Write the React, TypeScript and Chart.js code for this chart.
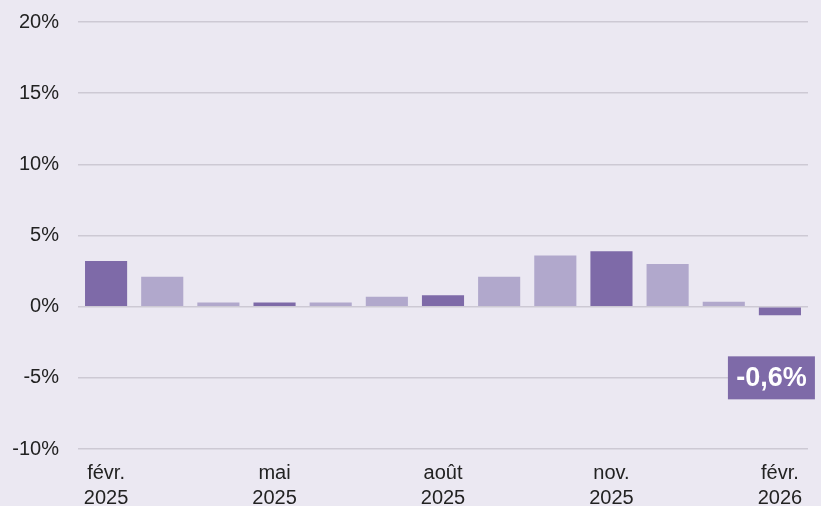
import React, { useEffect, useRef } from "react";
import { Chart, registerables } from "chart.js";

Chart.register(...registerables);

const months = ["févr.", "mars", "avr.", "mai", "juin", "juil.", "août", "sept.", "oct.", "nov.", "déc.", "janv.", "févr."];
const years = ["2025", "2025", "2025", "2025", "2025", "2025", "2025", "2025", "2025", "2025", "2025", "2026", "2026"];
const values = [3.2, 2.1, 0.3, 0.3, 0.3, 0.7, 0.8, 2.1, 3.6, 3.9, 3.0, 0.35, -0.6];
const labeledIndices = [0, 3, 6, 9, 12];
const yTicks = [-10, -5, 0, 5, 10, 15, 20];

const DARK = "#7e6aa8";
const LIGHT = "#b1a8cc";
const BG = "#ebe8f2";

const labelPlugin = {
  id: "lastLabel",
  afterDatasetsDraw(chart: any) {
    const meta = chart.getDatasetMeta(0);
    const idx = values.length - 1;
    const el = meta.data[idx];
    if (!el) return;
    const ctx = chart.ctx;
    const yScale = chart.scales.y;
    const w = 87;
    const h = 43;
    const right = el.x + 35;
    const cy = yScale.getPixelForValue(-5);
    ctx.save();
    ctx.fillStyle = DARK;
    ctx.fillRect(right - w, cy - h / 2, w, h);
    ctx.fillStyle = "#ffffff";
    ctx.font = "bold 27px 'Liberation Sans', Arial, sans-serif";
    ctx.textAlign = "center";
    ctx.textBaseline = "middle";
    const txt = values[idx].toFixed(1).replace(".", ",") + "%";
    ctx.fillText(txt, right - w / 2, cy + 1);
    ctx.restore();
  },
};

export default function App() {
  const ref = useRef<HTMLCanvasElement>(null);
  useEffect(() => {
    document.body.style.margin = "0";
    document.body.style.background = BG;
    document.body.style.overflow = "hidden";
    const chart = new Chart(ref.current!, {
      type: "bar",
      data: {
        labels: months.map((m, i) => [m, years[i]]),
        datasets: [
          {
            data: values,
            backgroundColor: values.map((_, i) => (labeledIndices.includes(i) ? DARK : LIGHT)),
            barPercentage: 0.75,
            categoryPercentage: 1,
          },
        ],
      },
      options: {
        animation: false,
        responsive: false,
        maintainAspectRatio: false,
        layout: { padding: { top: 22, right: 13, left: 0, bottom: 0 } },
        plugins: { legend: { display: false }, tooltip: { enabled: false } },
        scales: {
          x: {
            grid: { display: false },
            border: { display: false },
            afterFit: (s: any) => {
              s.height = 57;
              s.paddingLeft = 0;
              s.paddingRight = 0;
            },
            ticks: {
              autoSkip: false,
              maxRotation: 0,
              padding: 4,
              color: "#222222",
              font: { family: "'Liberation Sans', Arial, sans-serif", size: 20, lineHeight: 1.25 },
              callback: (_v: any, i: number) => (labeledIndices.includes(i) ? [months[i], years[i]] : ""),
            },
          },
          y: {
            min: -10,
            max: 20,
            afterFit: (s: any) => {
              s.width = 78;
              s.paddingTop = 0;
              s.paddingBottom = 0;
            },
            afterBuildTicks: (s: any) => {
              s.ticks = yTicks.map((v) => ({ value: v }));
            },
            grid: { color: "#cdc9d4", lineWidth: 1.5, drawTicks: false },
            border: { display: false },
            ticks: {
              padding: 19,
              color: "#222222",
              font: { family: "'Liberation Sans', Arial, sans-serif", size: 20 },
              callback: (v: any) => `${v}%`,
            },
          },
        },
      },
      plugins: [labelPlugin],
    });
    return () => chart.destroy();
  }, []);
  return (
    <div style={{ width: 821, height: 506, background: BG }}>
      <canvas ref={ref} width={821} height={506} style={{ display: "block" }} />
    </div>
  );
}
